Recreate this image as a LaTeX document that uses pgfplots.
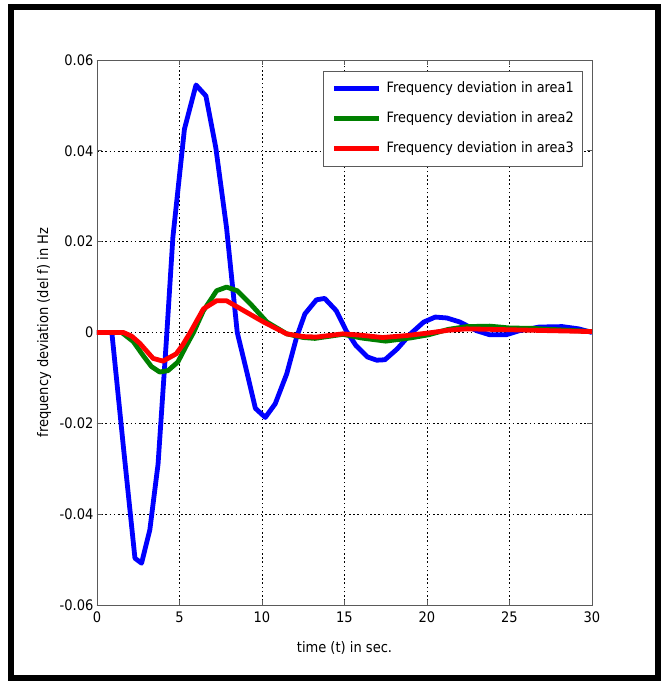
\documentclass[border=0pt]{standalone}
\usepackage{pgfplots}
\pgfplotsset{compat=1.18}
\usepackage{fontspec}
\setmainfont{DejaVu Sans Condensed}
\definecolor{mblue}{RGB}{0,0,255}
\definecolor{mgreen}{RGB}{0,128,0}
\definecolor{mred}{RGB}{255,0,0}
\definecolor{axgray}{RGB}{90,90,90}
\begin{document}
\begin{tikzpicture}[x=1pt,y=1pt]
\useasboundingbox (0,0) rectangle (661,681);
\draw[line width=6pt] (11,3) rectangle (658,674);
\begin{axis}[
  at={(97pt,76pt)}, anchor=south west,
  scale only axis, width=495pt, height=545pt,
  xmin=0, xmax=30, ymin=-0.06, ymax=0.06,
  scaled y ticks=false, scaled x ticks=false,
  xtick={0,5,10,15,20,25,30},
  xticklabels={0,5,10,15,20,25,30},
  ytick={-0.06,-0.04,-0.02,0,0.02,0.04,0.06},
  yticklabels={-0.06,-0.04,-0.02,0,0.02,0.04,0.06},
  ticklabel style={font=\fontsize{14.5}{16}\selectfont},
  xticklabel style={yshift=-3pt},
  grid=major,
  major grid style={black, line width=0.6pt, dash pattern=on 1.6pt off 2.6pt},
  axis line style={axgray, line width=0.8pt},
  tick style={axgray, line width=0.8pt},
  tick align=inside, major tick length=5pt,
  xlabel={time (t) in sec.},
  ylabel={frequency deviation (del f) in Hz},
  label style={font=\fontsize{14.5}{16}\selectfont},
  xlabel style={at={(axis description cs:0.5,-0.079)}, anchor=center},
  ylabel style={at={(axis description cs:-0.107,0.5)}, anchor=center},
  legend cell align=left,
  legend image code/.code={\draw[#1] (0pt,0pt) -- (45pt,0pt);},
  legend style={at={(rel axis cs:0.982,0.98)}, anchor=north east,
    draw=axgray, line width=0.8pt, fill=white,
    font=\fontsize{14.3}{16}\selectfont,
    inner xsep=9pt, inner ysep=10pt, row sep=15pt,
    nodes={inner sep=0pt, text height=11pt, text depth=4pt},
    /tikz/every odd column/.append style={column sep=5pt}},
  every axis plot/.append style={line width=4.8pt, line join=round},
]
\addplot[mblue] coordinates {
(0,0) (0.9,0) (1.6,-0.0252) (2.3,-0.0497) (2.7,-0.0508) (3.2,-0.0435) (3.7,-0.029) (4.2,-0.002) (4.6,0.021) (5.3,0.0448) (6.0,0.0545) (6.6,0.0521) (7.2,0.0407) (7.85,0.0231) (8.5,0.0) (9.1,-0.009) (9.6,-0.0167) (10.2,-0.0187) (10.8,-0.0157) (11.5,-0.0091) (12.1,-0.001) (12.6,0.0041) (13.3,0.0072) (13.8,0.0075) (14.5,0.0048) (15.1,0.0004) (15.7,-0.0029) (16.4,-0.0054) (16.95,-0.0061) (17.45,-0.006) (18.2,-0.0036) (19.0,-0.0003) (19.8,0.0023) (20.5,0.0034) (21.2,0.0032) (22,0.0023) (23,0.0004) (23.8,-0.0005) (24.8,-0.0005) (25.6,0.0004) (26.8,0.0012) (28.2,0.0013) (29.2,0.0008) (30,0.0)
};
\addlegendentry{Frequency deviation in area1}
\addplot[mgreen] coordinates {
(0,0) (1.5,0) (2.2,-0.002) (2.8,-0.0051) (3.3,-0.0075) (3.8,-0.0087) (4.3,-0.0084) (4.9,-0.0065) (5.4,-0.003) (5.85,0) (6.45,0.0048) (7.25,0.0092) (7.85,0.0100) (8.5,0.0092) (9.3,0.0063) (10.3,0.0023) (11.5,-0.0003) (12.5,-0.0011) (13.2,-0.0013) (14.9,-0.0004) (16,-0.0012) (17.5,-0.0019) (19,-0.0012) (20.1,-0.0005) (21.3,0.0007) (22.4,0.0013) (23.8,0.0014) (25,0.0010) (26.4,0.0009) (28,0.0006) (30,0.0002)
};
\addlegendentry{Frequency deviation in area2}
\addplot[mred] coordinates {
(0,0) (1.6,0) (2.1,-0.0008) (2.6,-0.0024) (3.4,-0.0057) (4.0,-0.0063) (4.8,-0.0047) (5.2,-0.0027) (5.65,0) (6.45,0.0052) (7.25,0.007) (7.85,0.007) (8.9,0.0048) (10.1,0.0023) (11.5,-0.0003) (12.5,-0.0009) (13.3,-0.0010) (14.9,-0.0003) (16,-0.0006) (17.3,-0.0011) (18.7,-0.0007) (20.1,-0.0001) (21.3,0.0005) (22.4,0.0008) (25.1,0.0006) (27.5,0.0004) (30,0.0002)
};
\addlegendentry{Frequency deviation in area3}
\end{axis}
\end{tikzpicture}
\end{document}
